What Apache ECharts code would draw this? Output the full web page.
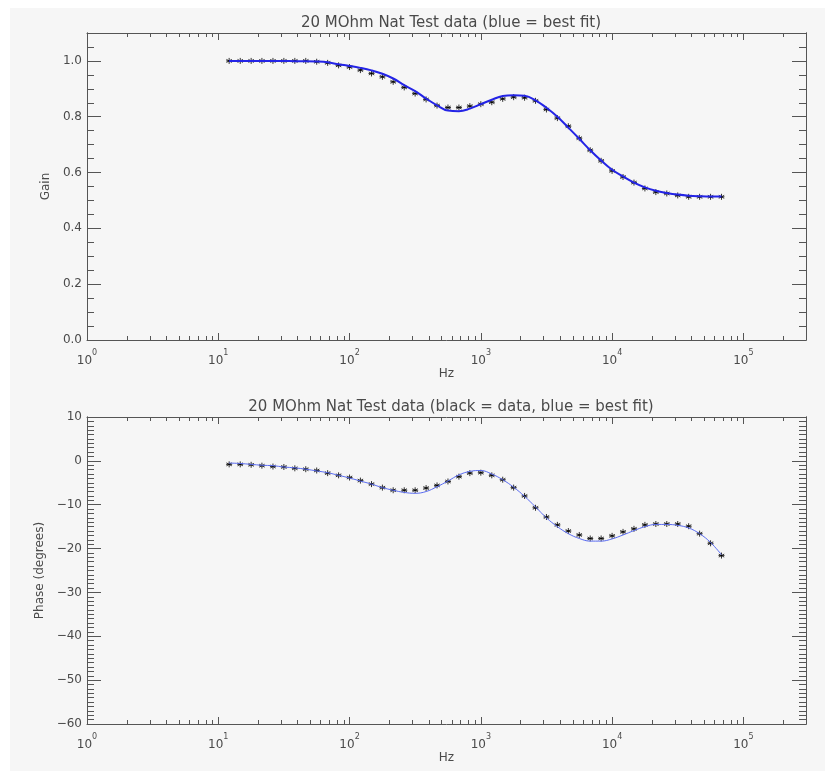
<!DOCTYPE html>
<html><head><meta charset="utf-8">
<script src="https://cdn.jsdelivr.net/npm/echarts@6/dist/echarts.min.js"></script>
<style>html,body{margin:0;padding:0;background:#fff}#c{width:825px;height:771px}</style>
</head><body><div id="c"></div>
<script>
// Frequencies (Hz) of the measured points
const freqHz = [12.1, 14.7, 17.8, 21.5, 26.1, 31.6, 38.3, 46.4, 56.2, 68.1, 82.5, 100, 121, 147, 178, 215, 261, 316, 383, 464, 562, 681, 825, 1000, 1212, 1468, 1778, 2154, 2610, 3162, 3831, 4642, 5623, 6813, 8254, 10000, 12115, 14678, 17783, 21544, 26102, 31623, 38312, 46416, 56234, 68129];
// Gain: measured data (black stars) and best fit (blue line)
const gainData = [1.0, 1.0, 1.0, 1.0, 1.0, 1.0, 1.0, 1.0, 0.997, 0.993, 0.984, 0.978, 0.967, 0.955, 0.943, 0.925, 0.905, 0.883, 0.862, 0.840, 0.833, 0.833, 0.838, 0.845, 0.852, 0.864, 0.870, 0.868, 0.857, 0.826, 0.795, 0.766, 0.723, 0.680, 0.642, 0.606, 0.584, 0.564, 0.543, 0.530, 0.525, 0.518, 0.513, 0.513, 0.513, 0.513];
const gainFit = [1.0, 1.0, 1.0, 1.0, 1.0, 1.0, 0.999, 0.999, 0.998, 0.995, 0.988, 0.982, 0.975, 0.966, 0.954, 0.937, 0.913, 0.892, 0.865, 0.841, 0.822, 0.820, 0.829, 0.845, 0.861, 0.874, 0.877, 0.875, 0.859, 0.832, 0.800, 0.761, 0.721, 0.680, 0.643, 0.610, 0.586, 0.564, 0.547, 0.535, 0.527, 0.521, 0.517, 0.515, 0.514, 0.514];
// Phase (degrees): measured data and best fit
const phaseData = [-0.8, -0.8, -0.9, -1.1, -1.3, -1.4, -1.7, -1.9, -2.2, -2.8, -3.3, -3.8, -4.5, -5.3, -6.1, -6.7, -6.7, -6.7, -6.2, -5.6, -4.7, -3.6, -2.8, -2.7, -3.3, -4.3, -6.1, -8.0, -10.7, -12.8, -14.6, -16.0, -16.9, -17.7, -17.7, -17.1, -16.2, -15.5, -14.6, -14.4, -14.4, -14.4, -14.9, -16.6, -18.8, -21.6];
const phaseFit = [-0.5, -0.6, -0.8, -1.0, -1.1, -1.4, -1.6, -1.9, -2.3, -2.7, -3.3, -3.9, -4.6, -5.3, -6.1, -6.7, -7.2, -7.4, -7.0, -5.9, -4.6, -3.2, -2.4, -2.2, -3.0, -4.3, -6.0, -8.1, -10.5, -13.0, -15.0, -16.6, -17.7, -18.3, -18.3, -17.8, -16.9, -15.9, -15.0, -14.5, -14.5, -14.7, -15.3, -16.6, -18.6, -21.4];
// Minor tick positions on the log frequency axis
const xMinorTicks = [2,3,4,5,6,7,8,9, 20,30,40,50,60,70,80,90, 200,300,400,500,600,700,800,900, 2000,3000,4000,5000,6000,7000,8000,9000, 20000,30000,40000,50000,60000,70000,80000,90000, 200000];
const titles = ['20 MOhm Nat Test data (blue = best fit)', '20 MOhm Nat Test data (black = data, blue = best fit)'];

const FONT = 'DejaVu Sans';
const AX = '#555';
const TXT = '#4a4a4a';
const starPath = 'path://M0,-5L0,5M-4.5,-2.5L4.5,2.5M-4.5,2.5L4.5,-2.5M-5,0L5,0';

function decadeLabel(v) {
  const l = Math.log10(v);
  const e = Math.round(l);
  if (Math.abs(l - e) > 1e-6) return '';
  return '{b|10}{s|' + e + '}';
}
const xRich = {
  b: {fontSize: 12, color: TXT, fontFamily: FONT, verticalAlign: 'bottom', lineHeight: 18},
  s: {fontSize: 8, color: TXT, fontFamily: FONT, verticalAlign: 'top'}
};
function xAxisDef(grid, pos) {
  const bottom = pos === 'bottom';
  return {
    type: 'log', logBase: 10, gridIndex: grid, position: pos, min: 1, max: 300000,
    name: bottom ? 'Hz' : '', nameLocation: 'middle', nameGap: 28,
    nameTextStyle: {fontSize: 12, color: TXT, fontFamily: FONT},
    axisLine: {show: true, onZero: false, lineStyle: {color: AX, width: 1}},
    axisTick: {show: true, inside: true, length: 7, lineStyle: {color: AX}},
    axisLabel: {show: bottom, margin: 9, formatter: decadeLabel, rich: xRich, showMaxLabel: false},
    splitLine: {show: false}, minorTick: {show: false}
  };
}
function yAxisDef(grid, pos, min, max, interval, len, labels, name, nameGap) {
  return {
    type: 'value', gridIndex: grid, position: pos, min: min, max: max, interval: interval,
    name: name || '', nameLocation: 'middle', nameGap: nameGap || 0,
    nameTextStyle: {fontSize: 12, color: TXT, fontFamily: FONT},
    axisLine: {show: true, onZero: false, lineStyle: {color: AX, width: 1}},
    axisTick: {show: true, inside: true, length: len, lineStyle: {color: AX}},
    axisLabel: {show: labels, margin: 5, fontSize: 12, color: TXT, fontFamily: FONT, showMaxLabel: grid === 0 ? false : true,
      formatter: grid === 0 ? (v => v.toFixed(1)) : (v => String(v).replace('-', '\u2212'))},
    splitLine: {show: false}
  };
}
function minorTickItem(params, api) {
  const x = Math.round(api.coord([api.value(0), api.value(1)])[0]) + 0.5;
  const cs = params.coordSys;
  const len = 4;
  const style = {stroke: AX, lineWidth: 1};
  return {type: 'group', children: [
    {type: 'line', shape: {x1: x, y1: cs.y + cs.height, x2: x, y2: cs.y + cs.height - len}, style: style},
    {type: 'line', shape: {x1: x, y1: cs.y, x2: x, y2: cs.y + len}, style: style}
  ]};
}

const chart = echarts.init(document.getElementById('c'), null, {renderer: 'canvas'});
chart.setOption({
  animation: false,
  backgroundColor: '#ffffff',
  graphic: [{type: 'rect', z: -10, shape: {x: 10, y: 8, width: 815, height: 763}, style: {fill: '#f6f6f6'}}],
  title: [
    {text: titles[0], left: 446, top: 11, textAlign: 'center', textStyle: {fontSize: 15, fontWeight: 'normal', color: TXT, fontFamily: FONT}},
    {text: titles[1], left: 446, top: 395, textAlign: 'center', textStyle: {fontSize: 15, fontWeight: 'normal', color: TXT, fontFamily: FONT}}
  ],
  grid: [
    {left: 87, top: 33, width: 719, height: 307, containLabel: false},
    {left: 87, top: 417, width: 719, height: 307, containLabel: false}
  ],
  xAxis: [xAxisDef(0, 'bottom'), xAxisDef(0, 'top'), xAxisDef(1, 'bottom'), xAxisDef(1, 'top')],
  yAxis: [
    yAxisDef(0, 'left', 0, 1.1, 0.2, 14, true, 'Gain', 34),
    yAxisDef(0, 'left', 0, 1.1, 0.05, 7, false),
    yAxisDef(0, 'right', 0, 1.1, 0.2, 14, false),
    yAxisDef(0, 'right', 0, 1.1, 0.05, 7, false),
    yAxisDef(1, 'left', -60, 10, 10, 14, true, 'Phase (degrees)', 41),
    yAxisDef(1, 'left', -60, 10, 1, 7, false),
    yAxisDef(1, 'right', -60, 10, 10, 14, false),
    yAxisDef(1, 'right', -60, 10, 1, 7, false)
  ],
  series: [
    {type: 'custom', xAxisIndex: 0, yAxisIndex: 0, renderItem: minorTickItem, data: xMinorTicks.map(v => [v, 0.5]), silent: true},
    {type: 'custom', xAxisIndex: 2, yAxisIndex: 4, renderItem: minorTickItem, data: xMinorTicks.map(v => [v, -25]), silent: true},
    {type: 'line', xAxisIndex: 0, yAxisIndex: 0, data: freqHz.map((f, i) => [f, gainFit[i]]), smooth: 0.4, showSymbol: false,
      lineStyle: {color: '#2424e6', width: 2}},
    {type: 'scatter', xAxisIndex: 0, yAxisIndex: 0, data: freqHz.map((f, i) => [f, gainData[i]]), symbol: starPath, symbolSize: 6,
      itemStyle: {color: '#000', borderColor: '#000', borderWidth: 1}},
    {type: 'line', xAxisIndex: 2, yAxisIndex: 4, data: freqHz.map((f, i) => [f, phaseFit[i]]), smooth: 0.4, showSymbol: false,
      lineStyle: {color: '#5a6cf2', width: 1}},
    {type: 'scatter', xAxisIndex: 2, yAxisIndex: 4, data: freqHz.map((f, i) => [f, phaseData[i]]), symbol: starPath, symbolSize: 6,
      itemStyle: {color: '#000', borderColor: '#000', borderWidth: 1}}
  ]
});
</script>
</body></html>
